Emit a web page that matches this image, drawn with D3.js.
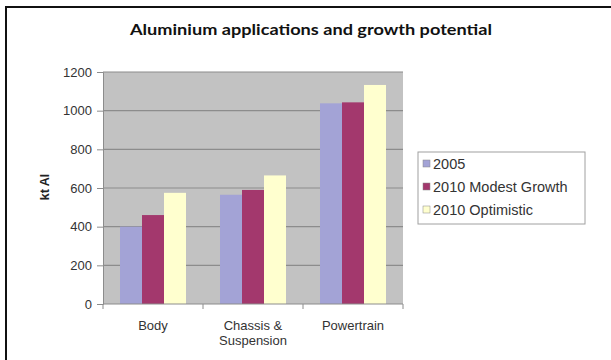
<!DOCTYPE html>
<html>
<head>
<meta charset="utf-8">
<script src="https://cdn.jsdelivr.net/npm/d3@7"></script>
<style>
  body { margin: 0; background: #fff; }
  svg { display: block; font-family: Arial, "Liberation Sans", sans-serif; }
</style>
</head>
<body>
<div id="chart"></div>
<script>
var categories = [["Body"], ["Chassis &", "Suspension"], ["Powertrain"]];
var seriesNames = ["2005", "2010 Modest Growth", "2010 Optimistic"];
var values2005 = [400, 565, 1038];
var valuesModest = [460, 590, 1043];
var valuesOptimistic = [575, 665, 1133];
var yTicks = [0, 200, 400, 600, 800, 1000, 1200];

var colors = ["#a3a3d6", "#a3386d", "#ffffcf"];
var allSeries = [values2005, valuesModest, valuesOptimistic];

var width = 611, height = 360;
var margin = { top: 72, right: 208, bottom: 56, left: 103 };
var innerW = width - margin.left - margin.right;
var innerH = height - margin.top - margin.bottom;

var svg = d3.select("#chart").append("svg")
    .attr("width", width)
    .attr("height", height);

// frame (top and left edges only)
svg.append("rect").attr("x", 5).attr("y", 6).attr("width", 606).attr("height", 2).attr("fill", "#111");
svg.append("rect").attr("x", 5).attr("y", 6).attr("width", 2).attr("height", 354).attr("fill", "#111");

svg.append("text")
    .attr("x", 311)
    .attr("y", 35)
    .attr("text-anchor", "middle")
    .attr("textLength", 362)
    .attr("lengthAdjust", "spacingAndGlyphs")
    .style("font-family", "'Lato', 'Open Sans', sans-serif")
    .style("font-size", "15.5px")
    .style("font-weight", "bold")
    .attr("fill", "#111")
    .text("Aluminium applications and growth potential");

var g = svg.append("g")
    .attr("transform", "translate(" + margin.left + "," + margin.top + ")");

var x = d3.scaleBand().domain(d3.range(categories.length)).range([0, innerW]).paddingInner(0.34).paddingOuter(0.17);
var xs = d3.scaleBand().domain(d3.range(seriesNames.length)).range([0, x.bandwidth()]);
var y = d3.scaleLinear().domain([0, 1200]).range([innerH, 0]);

g.append("rect")
    .attr("width", innerW)
    .attr("height", innerH)
    .attr("fill", "#c2c2c2");

g.selectAll(".grid")
    .data(yTicks.slice(1))
    .enter().append("line")
    .attr("x1", 0).attr("x2", innerW)
    .attr("y1", d => y(d)).attr("y2", d => y(d))
    .attr("stroke", "#8c8c8c")
    .attr("stroke-width", 1.2);

allSeries.forEach(function (vals, si) {
    g.selectAll(".bar" + si)
        .data(vals)
        .enter().append("rect")
        .attr("x", (d, i) => x(i) + xs(si))
        .attr("y", d => y(d))
        .attr("width", xs.bandwidth())
        .attr("height", d => innerH - y(d))
        .attr("fill", colors[si]);
});

// y axis
var yAxis = g.append("g")
    .call(d3.axisLeft(y).tickValues(yTicks).tickFormat(d3.format("d")).tickSize(6).tickPadding(5));
yAxis.select(".domain").attr("stroke", "#8c8c8c");
yAxis.selectAll(".tick line").attr("stroke", "#8c8c8c");
yAxis.selectAll("text").style("font-size", "13px").attr("fill", "#333");

// x axis
var step = innerW / categories.length;
var xAxis = g.append("g").attr("transform", "translate(0," + innerH + ")");
xAxis.append("line").attr("x1", 0).attr("x2", innerW).attr("stroke", "#8c8c8c");
xAxis.selectAll(".xt")
    .data(d3.range(categories.length + 1))
    .enter().append("line")
    .attr("x1", d => d * step).attr("x2", d => d * step)
    .attr("y1", 0).attr("y2", 5)
    .attr("stroke", "#8c8c8c");
xAxis.selectAll(".xl")
    .data(categories)
    .enter().append("text")
    .attr("x", (d, i) => x(i) + x.bandwidth() / 2)
    .attr("y", 26)
    .attr("text-anchor", "middle")
    .style("font-size", "13px")
    .attr("fill", "#333")
    .each(function (d) {
        var t = d3.select(this);
        d.forEach(function (line, li) {
            t.append("tspan")
                .attr("x", t.attr("x"))
                .attr("dy", li === 0 ? 0 : 15)
                .text(line);
        });
    });

svg.append("text")
    .attr("transform", "translate(49,187) rotate(-90)")
    .attr("text-anchor", "middle")
    .style("font-size", "12.5px")
    .style("font-weight", "bold")
    .attr("fill", "#222")
    .text("kt Al");

// legend
var legend = svg.append("g").attr("transform", "translate(418,152)");
legend.append("rect")
    .attr("width", 167).attr("height", 72)
    .attr("fill", "#fff")
    .attr("stroke", "#a0a0a0");
legend.selectAll(".item")
    .data(seriesNames)
    .enter().append("g")
    .attr("transform", (d, i) => "translate(5," + (12 + i * 23) + ")")
    .each(function (d, i) {
        var it = d3.select(this);
        it.append("rect")
            .attr("x", 0).attr("y", -4)
            .attr("width", 7).attr("height", 7)
            .attr("fill", colors[i])
            .attr("stroke", "#888").attr("stroke-width", 0.5);
        it.append("text")
            .attr("x", 10).attr("y", 5)
            .style("font-size", "14.5px")
            .attr("fill", "#333")
            .text(d);
    });
</script>
</body>
</html>
